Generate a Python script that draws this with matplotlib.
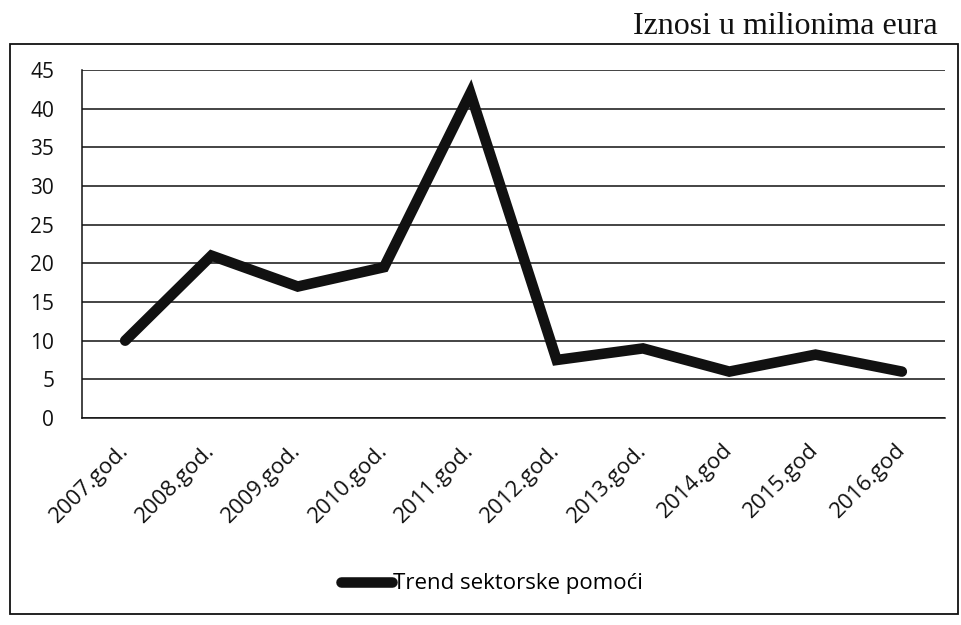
import matplotlib
matplotlib.use("Agg")
import matplotlib.pyplot as plt
from matplotlib.patches import Rectangle

years = ["2007.god.", "2008.god.", "2009.god.", "2010.god.", "2011.god.",
         "2012.god.", "2013.god.", "2014.god", "2015.god", "2016.god"]
values = [10, 21, 17, 19.5, 42, 7.5, 9, 6, 8.2, 6]
yticks = [0, 5, 10, 15, 20, 25, 30, 35, 40, 45]
series_name = "Trend sektorske pomoći"
title_text = "Iznosi u milionima eura"

plt.rcParams['font.family'] = ['Open Sans', 'DejaVu Sans']

W, H = 961, 625
fig = plt.figure(figsize=(W / 100, H / 100), dpi=100)
fig.patch.set_facecolor("white")

# outer frame
fig.patches.append(Rectangle((10 / W, 1 - 614 / H), 948 / W, 570 / H,
                             transform=fig.transFigure, fill=False,
                             edgecolor="#111111", linewidth=1.3))

ax = fig.add_axes([82 / W, 1 - 418 / H, (945 - 82) / W, (418 - 70) / H])
x = list(range(len(years)))
line, = ax.plot(x, values, color="#111111", linewidth=7.6,
                solid_joinstyle="miter", solid_capstyle="round",
                label=series_name, zorder=3)

ax.set_xlim(-0.5, len(years) - 0.5)
ax.set_ylim(0, 45)
ax.set_yticks(yticks)
ax.set_yticklabels([str(v) for v in yticks], fontsize=15)
ax.set_xticks(x)
ax.set_xticklabels(years, fontsize=16, rotation=45, ha="right", va="center",
                   rotation_mode="anchor")
ax.tick_params(axis="y", length=0, pad=20, colors="#111111")
ax.tick_params(axis="x", length=0, pad=21, colors="#111111")

ax.grid(axis="y", color="#111111", linewidth=1.1)
ax.set_axisbelow(True)
for s in ["top", "right"]:
    ax.spines[s].set_visible(False)
for s in ["left", "bottom"]:
    ax.spines[s].set_color("#111111")
    ax.spines[s].set_linewidth(1.1)

fig.text(938 / W, 1 - 34 / H, title_text, family="Liberation Serif",
         fontsize=23, ha="right", va="baseline", color="#111111")

leg = fig.legend(handles=[line], loc="center", bbox_to_anchor=(492 / W, 1 - 584 / H),
                 frameon=False, fontsize=16, handlelength=2.3, handletextpad=0.05)

fig.savefig("out.png", dpi=100)
